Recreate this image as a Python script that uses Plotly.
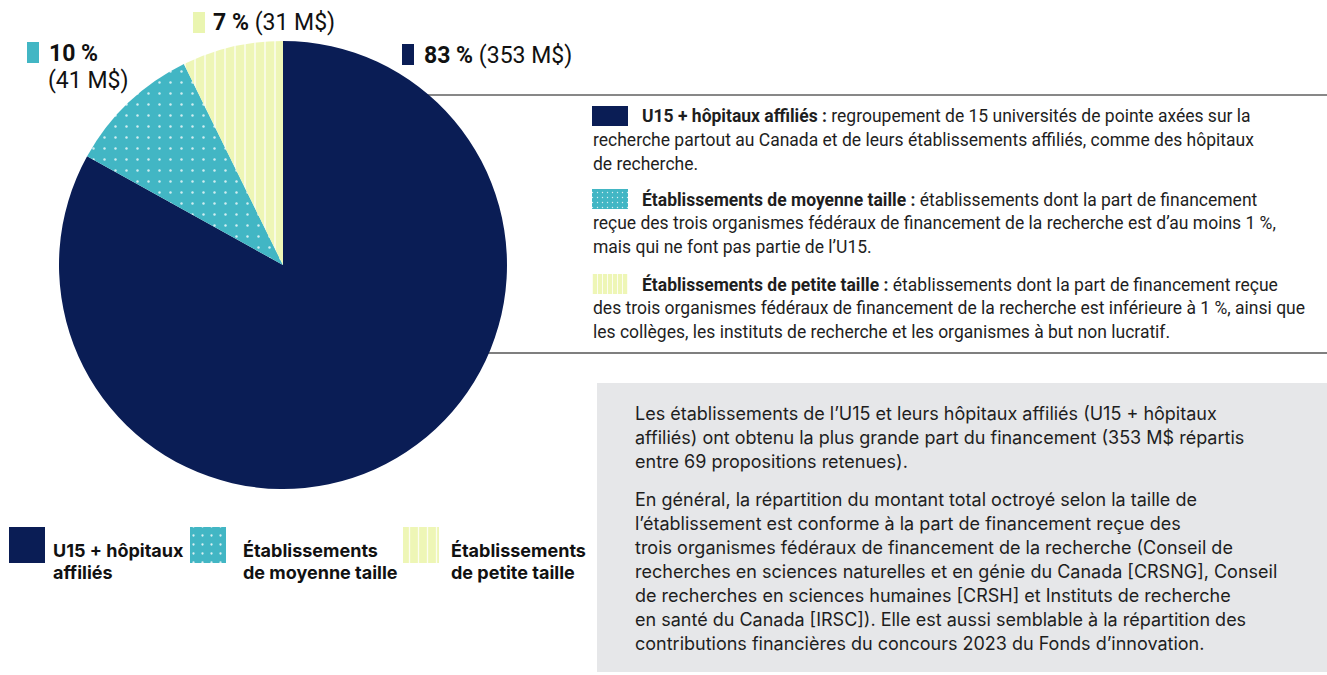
import plotly.graph_objects as go

# ---------------- data ----------------
categories = ["U15 + hôpitaux affiliés",
              "Établissements de moyenne taille",
              "Établissements de petite taille"]
amounts_m = [353, 41, 31]          # M$
percents = [83, 10, 7]             # %
legend_lines = [["U15 + hôpitaux", "affiliés"],
                ["Établissements", "de moyenne taille"],
                ["Établissements", "de petite taille"]]

definitions = [
    ["<b>U15 + hôpitaux affiliés :</b> regroupement de 15 universités de pointe axées sur la",
     "recherche partout au Canada et de leurs établissements affiliés, comme des hôpitaux",
     "de recherche."],
    ["<b>Établissements de moyenne taille :</b> établissements dont la part de financement",
     "reçue des trois organismes fédéraux de financement de la recherche est d’au moins 1 %,",
     "mais qui ne font pas partie de l’U15."],
    ["<b>Établissements de petite taille :</b> établissements dont la part de financement reçue",
     "des trois organismes fédéraux de financement de la recherche est inférieure à 1 %, ainsi que",
     "les collèges, les instituts de recherche et les organismes à but non lucratif."],
]

box_paragraphs = [
    ["Les établissements de l’U15 et leurs hôpitaux affiliés (U15 + hôpitaux",
     "affiliés) ont obtenu la plus grande part du financement (353 M$ répartis",
     "entre 69 propositions retenues)."],
    ["En général, la répartition du montant total octroyé selon la taille de",
     "l’établissement est conforme à la part de financement reçue des",
     "trois organismes fédéraux de financement de la recherche (Conseil de",
     "recherches en sciences naturelles et en génie du Canada [CRSNG], Conseil",
     "de recherches en sciences humaines [CRSH] et Instituts de recherche",
     "en santé du Canada [IRSC]). Elle est aussi semblable à la répartition des",
     "contributions financières du concours 2023 du Fonds d’innovation."],
]

# ---------------- styles ----------------
W, H = 1327, 675
NAVY, TEAL, YELLOW = "#0a1d55", "#42b6c4", "#eef6b6"
colors = [NAVY, TEAL, YELLOW]
shapes_pat = ["", ".", "|"]
TXT = "#1e1e1e"

fig = go.Figure()

# pie (pixel box 59..507 x 41..489)
px0, px1, py0, py1 = 59, 507, 41, 489
fig.add_trace(go.Pie(
    labels=categories, values=amounts_m, sort=False, direction="clockwise",
    rotation=0, textinfo="none", hoverinfo="label+value+percent",
    domain=dict(x=[px0 / W, px1 / W], y=[1 - py1 / H, 1 - py0 / H]),
    marker=dict(colors=colors, line=dict(width=0),
                pattern=dict(shape=shapes_pat, fgcolor="white",
                             bgcolor=colors, fgopacity=0.75,
                             size=[10, 11, 10], solidity=[0.1, 0.04, 0.16])),
    showlegend=False,
))

# swatch helper (legend keys) drawn as bars in a pixel-space overlay axis
def swatch(x0, y0, w, h, i, size, solidity):
    fig.add_trace(go.Bar(
        x=[x0 + w / 2], y=[h], base=[y0], width=[w],
        marker=dict(color=colors[i], line=dict(width=0),
                    pattern=dict(shape=shapes_pat[i], fgcolor="white",
                                 bgcolor=colors[i], fgopacity=0.8,
                                 size=size, solidity=solidity)),
        showlegend=False, hoverinfo="skip"))

# bottom legend
leg_x = [9, 190, 403]
leg_text_x = [51, 241, 449]
for i in range(3):
    swatch(leg_x[i], 527, 36, 36, i, 9, 0.05 if i == 1 else 0.14)
fig.update_layout(barmode="overlay")

ann = []
for i in range(3):
    for k, line in enumerate(legend_lines[i]):
        ann.append(dict(x=leg_text_x[i], y=550 + 22 * k, text=f"<b>{line}</b>",
                        xanchor="left", yanchor="middle", showarrow=False,
                        font=dict(family="Inter", size=18, color="#111")))

# top labels
lab_sq = [(402, 44), (27, 42), (193, 12)]
for i in range(3):
    sx, sy = lab_sq[i]
    fig.add_shape(type="rect", x0=sx, x1=sx + 12, y0=sy, y1=sy + 21,
                  xref="x", yref="y", fillcolor=colors[i] if i != 2 else "#eaf5b0",
                  line=dict(width=0))
LF = dict(family="Roboto", size=23, color="#111")
ann.append(dict(x=422, y=55, text=f"<b>{percents[0]} %</b> ({amounts_m[0]} M$)",
                xanchor="left", yanchor="middle", showarrow=False, font=LF))
ann.append(dict(x=47, y=53, text=f"<b>{percents[1]} %</b>",
                xanchor="left", yanchor="middle", showarrow=False, font=LF))
ann.append(dict(x=46, y=80, text=f"({amounts_m[1]} M$)",
                xanchor="left", yanchor="middle", showarrow=False, font=LF))
ann.append(dict(x=211, y=22, text=f"<b>{percents[2]} %</b> ({amounts_m[2]} M$)",
                xanchor="left", yanchor="middle", showarrow=False, font=LF))

# lines and grey box (behind the pie)
fig.add_shape(type="line", x0=300, x1=W, y0=95, y1=95, xref="x", yref="y",
              line=dict(color="#111", width=1), layer="below")
fig.add_shape(type="line", x0=300, x1=W, y0=353, y1=353, xref="x", yref="y",
              line=dict(color="#555", width=1.5), layer="below")
fig.add_shape(type="rect", x0=597, x1=W, y0=383, y1=672, xref="x", yref="y",
              fillcolor="#e6e7e9", line=dict(width=0), layer="below")

# definitions with small swatches
def_y = [116, 199, 284]
for i in range(3):
    swatch(592, def_y[i] - 10, 36, 20, i, 5, 0.06 if i == 1 else 0.2)
    for k, line in enumerate(definitions[i]):
        ann.append(dict(x=640 if k == 0 else 591, y=def_y[i] + 24 * k, text=line,
                        xanchor="left", yanchor="middle", showarrow=False,
                        font=dict(family="Roboto", size=17.5, color=TXT)))

# grey box text
box_y = [413, 499]
for p, para in enumerate(box_paragraphs):
    for k, line in enumerate(para):
        ann.append(dict(x=633, y=box_y[p] + 24 * k, text=line,
                        xanchor="left", yanchor="middle", showarrow=False,
                        font=dict(family="Inter", size=18, color=TXT)))

fig.update_layout(
    width=W, height=H, margin=dict(l=0, r=0, t=0, b=0),
    paper_bgcolor="white", plot_bgcolor="rgba(0,0,0,0)",
    xaxis=dict(range=[0, W], domain=[0, 1], visible=False, fixedrange=True),
    yaxis=dict(range=[H, 0], domain=[0, 1], visible=False, fixedrange=True),
    annotations=ann, showlegend=False,
)

fig.write_html("out.html",
               config={"displayModeBar": False},
               post_script="document.body.style.margin='0';"
                           "document.body.style.overflow='hidden';")
